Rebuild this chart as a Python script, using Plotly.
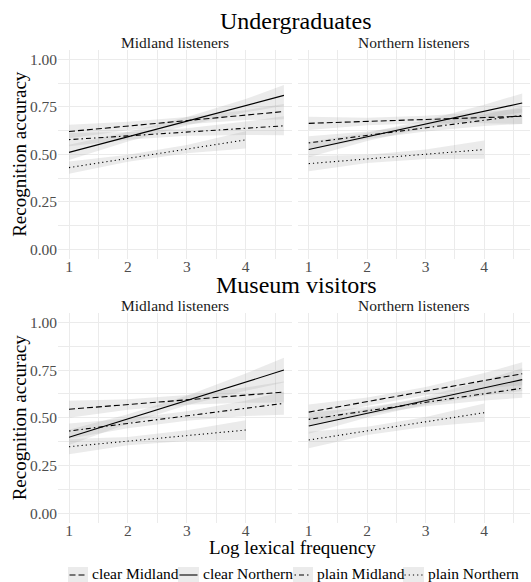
import plotly.graph_objects as go

# ---------------- data ----------------
GROUPS = ["clear Midland", "clear Northern", "plain Midland", "plain Northern"]
ROW_TITLES = ["Undergraduates", "Museum visitors"]
COL_TITLES = ["Midland listeners", "Northern listeners"]
X_TICKS = [1, 2, 3, 4]
Y_TICKS = [0.0, 0.25, 0.5, 0.75, 1.0]
Y_TICK_TEXT = ["0.00", "0.25", "0.50", "0.75", "1.00"]

X_LINE = [1, 4.65]          # fitted-line extent (clear/plain Midland, clear Northern)
X_LINE_PN = [1, 4]          # fitted-line extent (plain Northern)
X_BAND = [1, 2, 3, 4, 4.65]
X_BAND_PN = [1, 2, 3, 4]

# Undergraduates, Midland listeners
UG_MID_LINE = [[0.62, 0.725], [0.51, 0.81], [0.577, 0.65], [0.43, 0.576]]
UG_MID_LO = [[0.585, 0.627, 0.658, 0.680, 0.685],
             [0.470, 0.567, 0.652, 0.721, 0.755],
             [0.542, 0.577, 0.597, 0.602, 0.600],
             [0.398, 0.461, 0.505, 0.531]]
UG_MID_HI = [[0.655, 0.671, 0.696, 0.732, 0.765],
             [0.550, 0.617, 0.696, 0.791, 0.865],
             [0.612, 0.617, 0.637, 0.672, 0.700],
             [0.462, 0.497, 0.549, 0.621]]

# Undergraduates, Northern listeners
UG_NOR_LINE = [[0.663, 0.70], [0.525, 0.77], [0.56, 0.705], [0.451, 0.525]]
UG_NOR_LO = [[0.628, 0.653, 0.663, 0.663, 0.660],
             [0.485, 0.570, 0.639, 0.691, 0.720],
             [0.525, 0.580, 0.620, 0.649, 0.660],
             [0.411, 0.454, 0.475, 0.477]]
UG_NOR_HI = [[0.698, 0.693, 0.703, 0.723, 0.740],
             [0.565, 0.614, 0.679, 0.761, 0.820],
             [0.595, 0.620, 0.660, 0.709, 0.750],
             [0.491, 0.498, 0.525, 0.573]]

# Museum visitors, Midland listeners
MU_MID_LINE = [[0.545, 0.635], [0.398, 0.75], [0.431, 0.576], [0.349, 0.436]]
MU_MID_LO = [[0.500, 0.542, 0.569, 0.579, 0.580],
             [0.358, 0.469, 0.566, 0.642, 0.685],
             [0.391, 0.446, 0.485, 0.510, 0.516],
             [0.309, 0.356, 0.379, 0.384]]
MU_MID_HI = [[0.590, 0.598, 0.619, 0.659, 0.690],
             [0.438, 0.519, 0.616, 0.732, 0.815],
             [0.471, 0.496, 0.535, 0.590, 0.636],
             [0.389, 0.400, 0.435, 0.488]]

# Museum visitors, Northern listeners
MU_NOR_LINE = [[0.53, 0.731], [0.457, 0.70], [0.492, 0.655], [0.384, 0.527]]
MU_NOR_LO = [[0.490, 0.563, 0.618, 0.655, 0.671],
             [0.417, 0.502, 0.568, 0.617, 0.640],
             [0.457, 0.517, 0.561, 0.591, 0.605],
             [0.341, 0.410, 0.454, 0.479]]
MU_NOR_HI = [[0.570, 0.607, 0.662, 0.735, 0.791],
             [0.497, 0.546, 0.612, 0.697, 0.760],
             [0.527, 0.557, 0.601, 0.661, 0.705],
             [0.427, 0.454, 0.504, 0.575]]

# ---------------- styling ----------------
W, H = 531, 582
FONT = "Liberation Serif"
DASHES = ["6px,3px", "solid", "1.5px,3px,5px,3px", "1.2px,3px"]
BAND_FILL = "rgba(153,153,153,0.2)"
GRID = "#EBEBEB"
SMALL = 15.5   # tick, strip and legend text
AXT = 19       # axis titles
TITLE = 24     # row titles

# panel pixel boxes (left, right, top, bottom)
COL_PX = [(58, 291.6), (297.8, 529.8)]
ROW_PX = [(49.8, 258.8), (312.8, 522.9)]

# legend layout (pixel positions of key boxes)
LEG_KEY_X = [(68, 88), (178, 199), (293, 313), (403, 424)]
LEG_Y = 573

panels = [
    (0, 0, UG_MID_LINE, UG_MID_LO, UG_MID_HI),
    (0, 1, UG_NOR_LINE, UG_NOR_LO, UG_NOR_HI),
    (1, 0, MU_MID_LINE, MU_MID_LO, MU_MID_HI),
    (1, 1, MU_NOR_LINE, MU_NOR_LO, MU_NOR_HI),
]

fig = go.Figure()

def axis_ids(r, c):
    n = r * 2 + c + 1
    return ("x" if n == 1 else f"x{n}"), ("y" if n == 1 else f"y{n}")

# bands first
for r, c, lines, los, his in panels:
    xa, ya = axis_ids(r, c)
    for g in range(4):
        xb = X_BAND_PN if g == 3 else X_BAND
        fig.add_trace(go.Scatter(
            x=list(xb) + list(xb[::-1]),
            y=list(his[g]) + list(los[g][::-1]),
            fill="toself", fillcolor=BAND_FILL, line=dict(width=0),
            mode="lines", hoverinfo="skip", showlegend=False,
            xaxis=xa, yaxis=ya))

# fitted lines
for r, c, lines, los, his in panels:
    xa, ya = axis_ids(r, c)
    for g in range(4):
        xl = X_LINE_PN if g == 3 else X_LINE
        fig.add_trace(go.Scatter(
            x=xl, y=lines[g], mode="lines",
            line=dict(color="black", width=1.1, dash=DASHES[g]),
            name=GROUPS[g], showlegend=False,
            xaxis=xa, yaxis=ya))

layout = dict(
    width=W, height=H,
    margin=dict(l=0, r=0, t=0, b=0, autoexpand=False),
    paper_bgcolor="white", plot_bgcolor="white",
    font=dict(family=FONT, color="black", size=SMALL),
    showlegend=False,
)

for r in range(2):
    for c in range(2):
        n = r * 2 + c + 1
        xk = "xaxis" if n == 1 else f"xaxis{n}"
        yk = "yaxis" if n == 1 else f"yaxis{n}"
        l, rr = COL_PX[c]
        t, b = ROW_PX[r]
        layout[xk] = dict(
            domain=[l / W, rr / W], range=[0.813, 4.78],
            tickmode="array", tickvals=X_TICKS, ticktext=[str(v) for v in X_TICKS],
            showgrid=True, gridcolor=GRID, gridwidth=1.4, zeroline=False,
            showline=False, ticks="", automargin=False, ticklabelstandoff=-3,
            tickfont=dict(family=FONT, size=SMALL, color="#4D4D4D"),
            minor=dict(tickmode="array", tickvals=[1.5, 2.5, 3.5, 4.5],
                       showgrid=True, gridcolor=GRID, gridwidth=0.8),
            anchor=("y" if n == 1 else f"y{n}"), fixedrange=True)
        layout[yk] = dict(
            domain=[1 - b / H, 1 - t / H], range=[-0.05, 1.05],
            tickmode="array", tickvals=Y_TICKS, ticktext=Y_TICK_TEXT,
            showticklabels=(c == 0),
            showgrid=True, gridcolor=GRID, gridwidth=1.4, zeroline=False,
            showline=False, ticks="", automargin=False,
            tickfont=dict(family=FONT, size=SMALL, color="#4D4D4D"),
            minor=dict(tickmode="array", tickvals=[0.125, 0.375, 0.625, 0.875],
                       showgrid=True, gridcolor=GRID, gridwidth=0.8),
            anchor=("x" if n == 1 else f"x{n}"), fixedrange=True)

fig.update_layout(**layout)

ann = []
shapes = []
title_y = [21, 285]
for r in range(2):
    ann.append(dict(text=ROW_TITLES[r], x=296 / W, y=1 - title_y[r] / H,
                    xref="paper", yref="paper", showarrow=False,
                    xanchor="center", yanchor="middle",
                    font=dict(family=FONT, size=TITLE, color="black")))
    t, b = ROW_PX[r]
    ann.append(dict(text="Recognition accuracy", x=19.5 / W, y=1 - (t + b) / 2 / H,
                    xref="paper", yref="paper", showarrow=False, textangle=-90,
                    xanchor="center", yanchor="middle",
                    font=dict(family=FONT, size=AXT, color="black")))
    for c in range(2):
        l, rr = COL_PX[c]
        ann.append(dict(text=COL_TITLES[c], x=(l + rr) / 2 / W,
                        y=1 - (t - 7) / H, xref="paper", yref="paper",
                        showarrow=False, xanchor="center", yanchor="middle",
                        font=dict(family=FONT, size=SMALL, color="#1A1A1A")))
ann.append(dict(text="Log lexical frequency", x=292 / W, y=1 - 547 / H,
                xref="paper", yref="paper", showarrow=False,
                xanchor="center", yanchor="middle",
                font=dict(family=FONT, size=AXT, color="black")))

# manual legend (ggplot-style keys with grey background)
for g in range(4):
    x0, x1 = LEG_KEY_X[g]
    shapes.append(dict(type="rect", xref="paper", yref="paper",
                       x0=x0 / W, x1=x1 / W, y0=1 - (LEG_Y + 9) / H, y1=1 - (LEG_Y - 6) / H,
                       fillcolor="#EBEBEB", line=dict(width=0), layer="above"))
    shapes.append(dict(type="line", xref="paper", yref="paper",
                       x0=(x0 + 1.5) / W, x1=(x1 - 1.5) / W,
                       y0=1 - (LEG_Y + 2) / H, y1=1 - (LEG_Y + 2) / H,
                       line=dict(color="black", width=1.1, dash=DASHES[g]), layer="above"))
    ann.append(dict(text=GROUPS[g], x=(x1 + 1.5) / W, y=1 - LEG_Y / H,
                    xref="paper", yref="paper", showarrow=False,
                    xanchor="left", yanchor="middle",
                    font=dict(family=FONT, size=SMALL, color="black")))

fig.update_layout(annotations=ann, shapes=shapes)

fig.write_html("out.html",
               config={"displayModeBar": False},
               post_script="document.body.style.margin='0px';"
                           "document.body.style.overflow='hidden';")
